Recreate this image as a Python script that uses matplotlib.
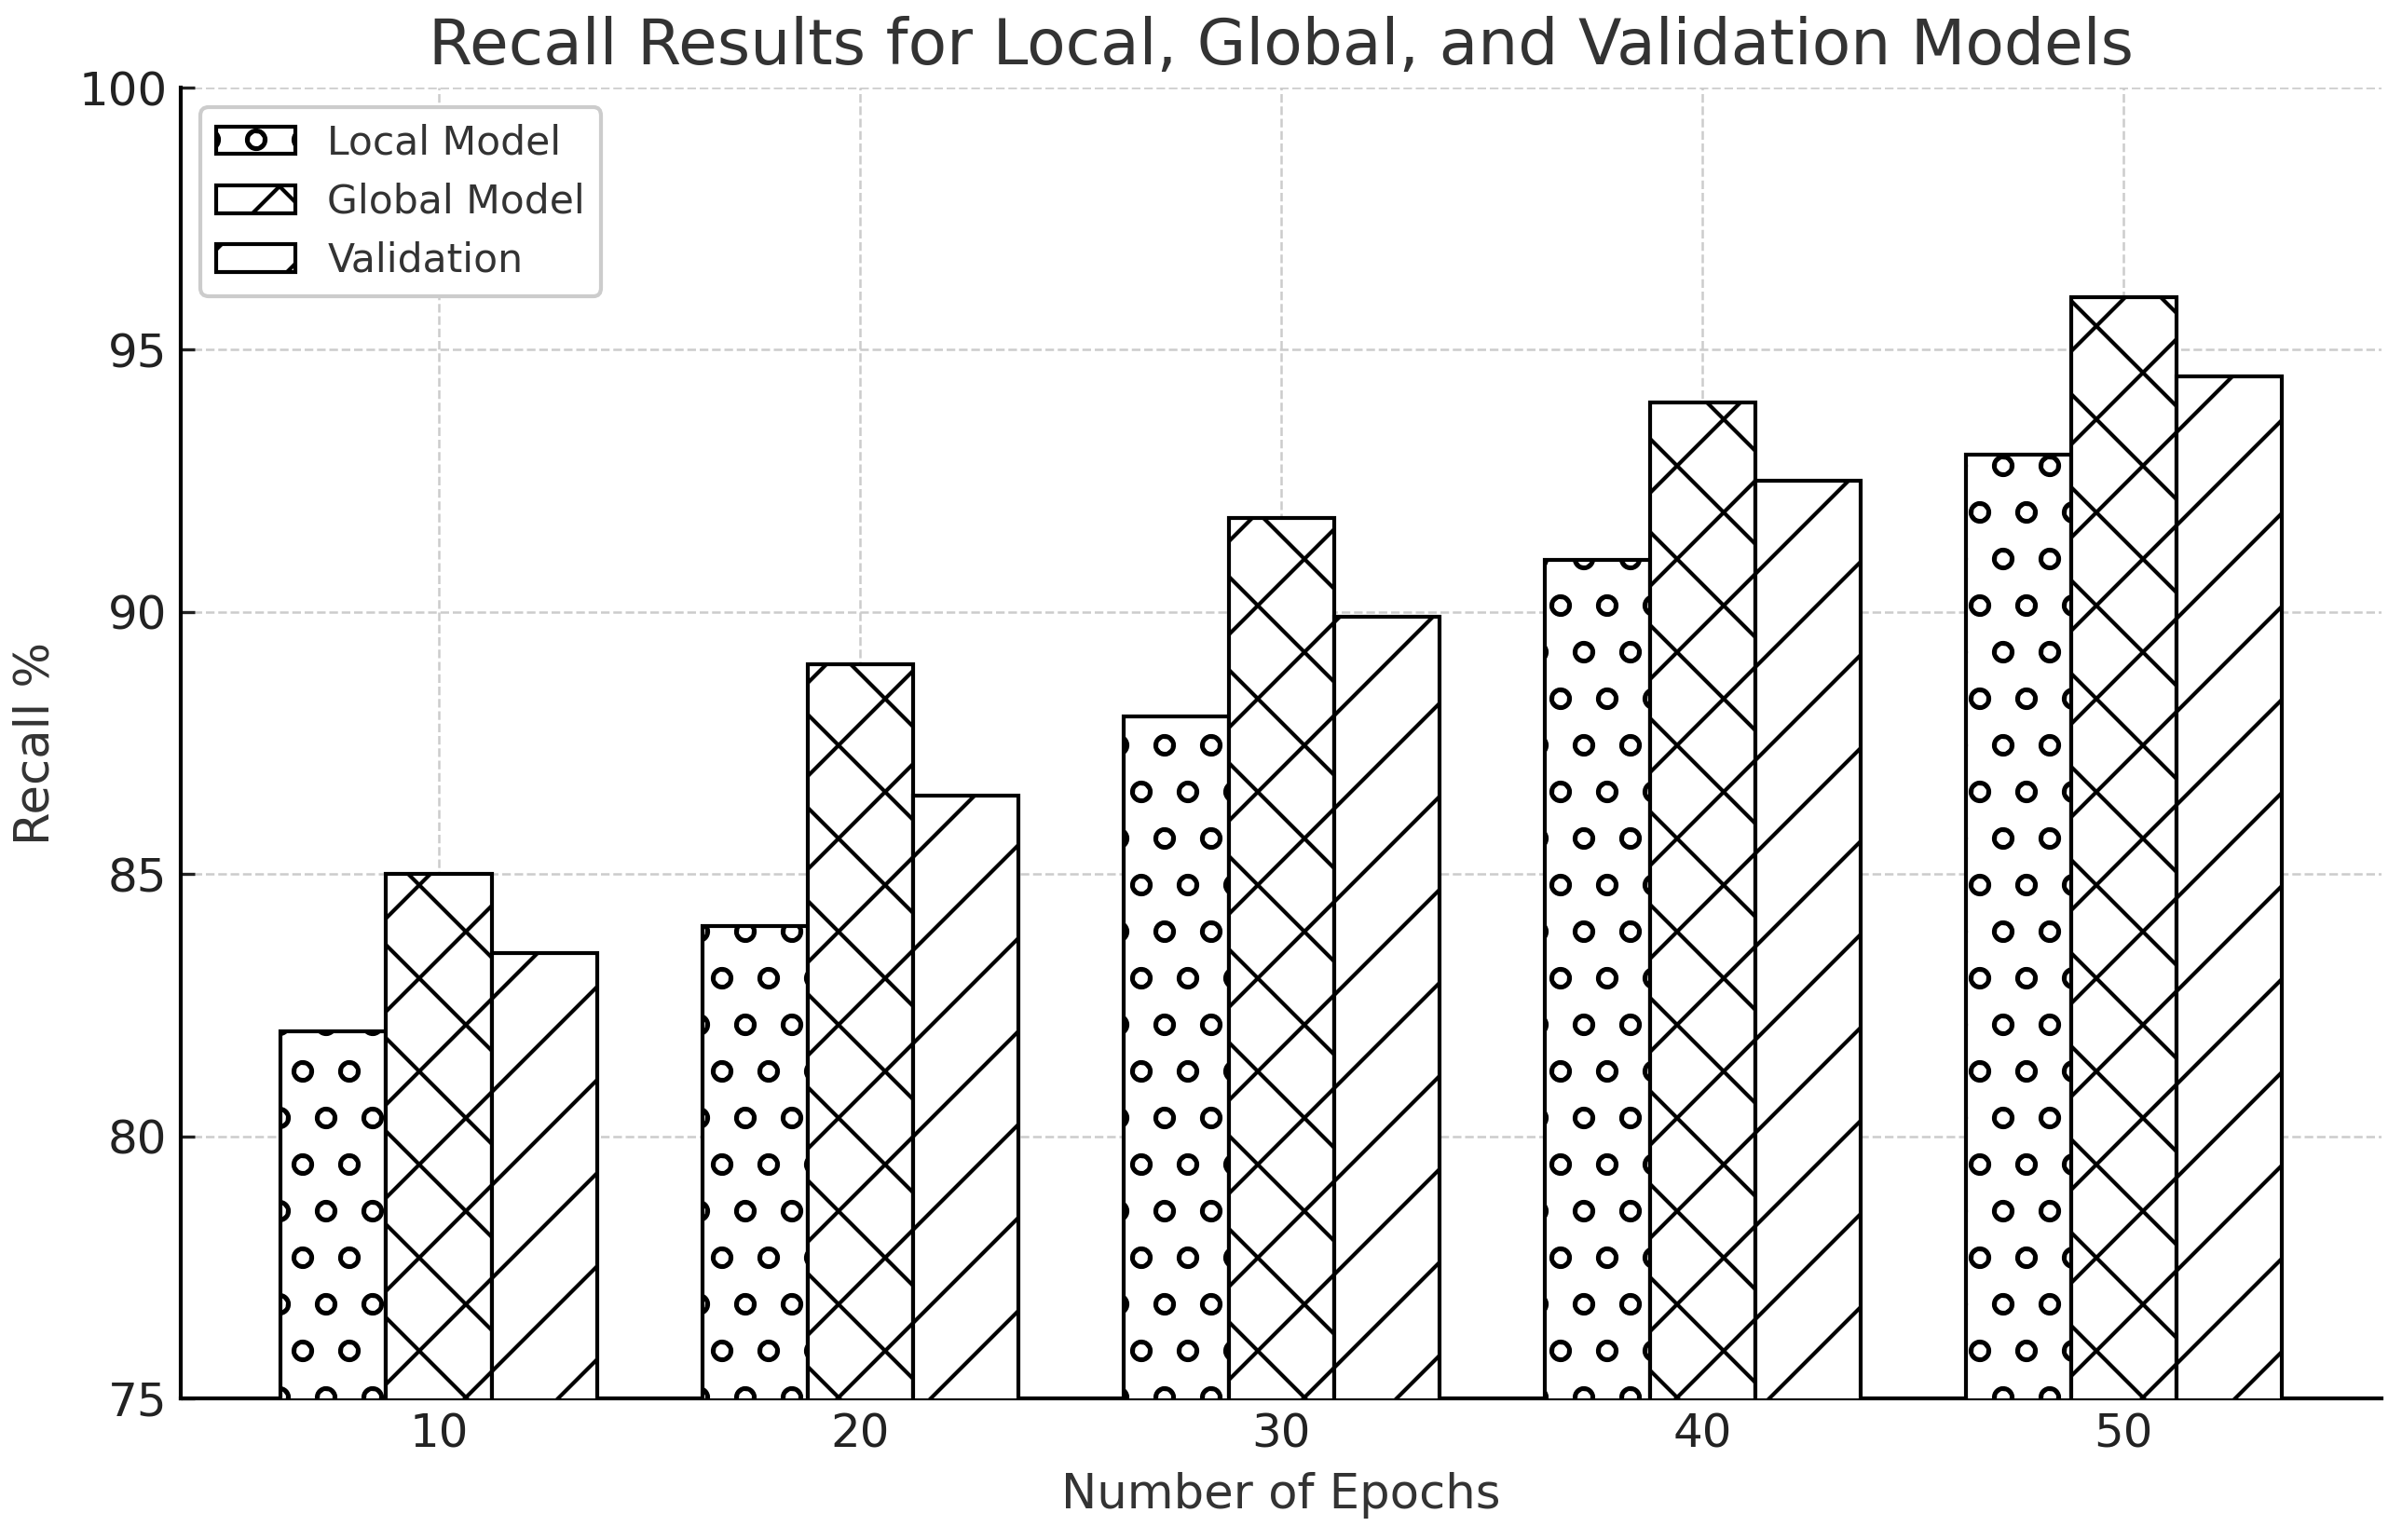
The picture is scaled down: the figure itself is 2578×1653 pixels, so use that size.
import numpy as np
import matplotlib
matplotlib.use('Agg')
import matplotlib.pyplot as plt

# Recall values
epochs = [10, 20, 30, 40, 50]
local_model = [82.0, 84.0, 88.0, 91.0, 93.0]
global_model = [85.0, 89.0, 91.8, 94.0, 96.0]
validation = [83.5, 86.5, 89.9, 92.5, 94.5]

series_names = ['Local Model', 'Global Model', 'Validation']
hatches = ['o', 'x', '/']

plt.rcParams['font.family'] = ['DejaVu Sans']
plt.rcParams['hatch.linewidth'] = 1.0

fig = plt.figure(figsize=(2578 / 300, 1653 / 300), dpi=300)
ax = fig.add_axes([0.0753, 0.0920, 0.9162, 0.8511])

x = np.array(epochs)
width = 2.5
for i, (vals, name, h) in enumerate(zip([local_model, global_model, validation], series_names, hatches)):
    ax.bar(x + (i - 1) * width, vals, width, label=name, color='white',
           edgecolor='black', hatch=h, linewidth=1.0, zorder=3)

ax.set_ylim(75, 100)
ax.set_xticks(epochs)
ax.set_yticks([75, 80, 85, 90, 95, 100])
ax.tick_params(direction='in', labelsize=12, colors='#222222', length=3.5)
ax.grid(True, linestyle='--', color='#cccccc', linewidth=0.6, zorder=0)
ax.set_axisbelow(True)

for side in ['top', 'right']:
    ax.spines[side].set_visible(False)
for side in ['left', 'bottom']:
    ax.spines[side].set_linewidth(1.0)

ax.set_title('Recall Results for Local, Global, and Validation Models', fontsize=16.3, color='#333333')
ax.set_xlabel('Number of Epochs', fontsize=12.3, color='#333333')
ax.set_ylabel('Recall %', fontsize=12.3, color='#333333', labelpad=5)

leg = ax.legend(loc='upper left', fontsize=10.2, fancybox=True, framealpha=1.0)
for t in leg.get_texts():
    t.set_color('#333333')

fig.savefig('out.png', dpi=300)
